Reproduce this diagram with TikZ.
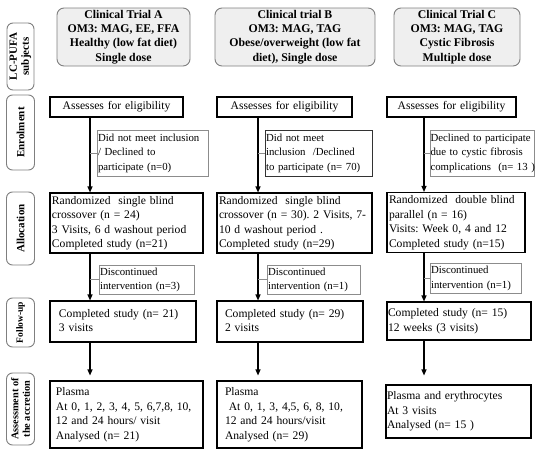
\documentclass[tikz,border=0pt]{standalone}
\usepackage{fontspec}
\setmainfont{Liberation Serif}
\usetikzlibrary{arrows.meta}
\definecolor{hdrfill}{HTML}{EFEFEF}
\definecolor{hdrline}{HTML}{7F7F7F}
\definecolor{sideline}{HTML}{8C8C8C}
\newcommand\rowsx[1]{\begin{tabular}{@{}l@{}}#1\end{tabular}}
\frenchspacing
\begin{document}
\begin{tikzpicture}[x=1pt,y=-1pt,
  hdr/.style={draw=hdrline, fill=hdrfill, rounded corners=7pt, line width=0.9pt, align=center, font=\bfseries\fontsize{11.8}{14.2}\selectfont, inner sep=0pt},
  lbl/.style={draw=hdrline, rounded corners=6pt, line width=0.9pt, rotate=90, align=center, font=\bfseries\fontsize{11}{12}\selectfont, inner sep=0pt},
  mbox/.style={draw, line width=1.1pt, inner xsep=2pt, inner ysep=0pt, align=left, font=\fontsize{11.6}{14.5}\selectfont},
  sbox/.style={draw=sideline, line width=0.9pt, inner xsep=1pt, inner ysep=0pt, align=left, font=\fontsize{10.8}{14.3}\selectfont},
  arr/.style={-{Triangle[length=6pt,width=5pt]}, line width=1.1pt},
  lnk/.style={draw=sideline, line width=0.8pt}]
\useasboundingbox (0,0) rectangle (550,455);

% headers
\node[hdr, minimum width=133pt, minimum height=58pt] (hA) at (123.5,37) {Clinical Trial A\\OM3: MAG, EE, FFA\\Healthy (low fat diet)\\Single dose};
\node[hdr, minimum width=160pt, minimum height=58pt] (hB) at (295,37) {Clinical trial B\\OM3: MAG, TAG\\Obese/overweight (low fat\\diet), Single dose};
\node[hdr, minimum width=126pt, minimum height=58pt] (hC) at (457,37) {Clinical Trial C\\OM3: MAG, TAG\\Cystic Fibrosis\\Multiple dose};

% left labels
\node[lbl, minimum width=67pt, minimum height=27pt] (lL) at (20.5,56.5) {LC-PUFA\\subjects};
\node[lbl, minimum width=75pt, minimum height=28pt] (lE) at (20.5,132.5) {Enrolment};
\node[lbl, minimum width=73pt, minimum height=28pt] (lA) at (20.5,228.5) {Allocation};
\node[lbl, minimum width=49pt, minimum height=28pt, font=\bfseries\fontsize{9.5}{11}\selectfont] (lF) at (20.5,322.5) {Follow-up};
\node[lbl, minimum width=72pt, minimum height=28pt, font=\bfseries\fontsize{10.3}{11.5}\selectfont] (lS) at (20.5,409) {Assessment of\\the accretion};

% enrolment
\node[mbox, align=center, text width=129pt, minimum height=20pt] (eA) at (116.5,107) {Assesses for eligibility};
\node[mbox, align=center, text width=131pt, minimum height=20pt] (eB) at (284.5,107) {Assesses for eligibility};
\node[mbox, align=center, text width=125pt, minimum height=20pt] (eC) at (451.5,107) {Assesses for eligibility};

% exclusion boxes
\node[sbox, text width=109pt, minimum height=46pt] (sA) at (152.5,153) {\rowsx{Did not meet inclusion\\/ Declined to\\participate (n=0)}};
\node[sbox, draw=black!80, text width=105pt, minimum height=46pt] (sB) at (318.5,153) {\rowsx{Did not meet\\inclusion\ \ /Declined\\to participate (n= 70)}};
\node[sbox, inner xsep=0.5pt, text width=103pt, minimum height=46pt] (sC) at (482,153) {\rowsx{Declined to participate\\due to cystic fibrosis\\complications\ \ (n= 13 )}};

% allocation
\node[mbox, text width=149pt, minimum height=60pt] (aA) at (126.5,223) {\rowsx{Randomized\ \ single blind\\crossover (n = 24)\\3 Visits, 6 d washout period\\Completed study (n=21)}};
\node[mbox, text width=151pt, minimum height=60pt] (aB) at (294.5,223) {\rowsx{Randomized\ \ single blind\\crossover (n = 30). 2 Visits, 7-\\10 d washout period .\\Completed study (n=29)}};
\node[mbox, text width=134pt, minimum height=60pt] (aC) at (456,222.5) {\rowsx{Randomized\ \ double blind\\parallel (n = 16)\\Visits: Week 0, 4 and 12\\Completed study (n=15)}};

% discontinued
\node[sbox, text width=93pt, minimum height=29pt] (dA) at (146.5,279.5) {\rowsx{Discontinued\\intervention (n=3)}};
\node[sbox, text width=91pt, minimum height=29pt] (dB) at (313.5,279.5) {\rowsx{Discontinued\\intervention (n=1)}};
\node[sbox, text width=89pt, minimum height=30pt] (dC) at (475.5,278) {\rowsx{Discontinued\\intervention (n=1)}};

% follow-up
\node[mbox, inner xsep=9pt, text width=128pt, minimum height=41pt] (fA) at (123,321.5) {\rowsx{Completed study (n= 21)\\3 visits}};
\node[mbox, inner xsep=8pt, text width=130pt, minimum height=41pt] (fB) at (290,321.5) {\rowsx{Completed study (n= 29)\\2 visits}};
\node[mbox, inner xsep=1pt, text width=142pt, minimum height=38pt] (fC) at (459,321) {\rowsx{Completed study (n= 15)\\12 weeks (3 visits)}};

% assessment
\node[mbox, inner xsep=6pt, text width=141pt, minimum height=67pt] (pA) at (126.5,414.5) {\rowsx{Plasma\\At 0, 1, 2, 3, 4, 5, 6,7,8, 10,\\12 and 24 hours/ visit\\Analysed (n= 21)}};
\node[mbox, inner xsep=8pt, text width=129pt, minimum height=67pt] (pB) at (289.5,414.5) {\rowsx{Plasma\\\ At 0, 1, 3, 4,5, 6, 8, 10,\\12 and 24 hours/visit\\Analysed (n= 29)}};
\node[mbox, inner xsep=1pt, text width=143pt, minimum height=53pt] (pC) at (458.5,411.5) {\rowsx{Plasma and erythrocytes\\At 3 visits\\Analysed (n= 15 )}};

% arrow columns
\coordinate (xA) at (90,0);
\coordinate (xB) at (258,0);
\coordinate (xC) at (424,0);

\draw[arr] (eA.south -| xA) -- (aA.north -| xA);
\draw[lnk] (sA.west -| xA) -- (sA.west);
\draw[arr] (aA.south -| xA) -- (fA.north -| xA);
\draw[lnk] (dA.west -| xA) -- (dA.west);
\draw[arr, shorten >=5pt] (fA.south -| xA) -- (pA.north -| xA);

\draw[arr] (eB.south -| xB) -- (aB.north -| xB);
\draw[lnk] (sB.west -| xB) -- (sB.west);
\draw[arr] (aB.south -| xB) -- (fB.north -| xB);
\draw[lnk] (dB.west -| xB) -- (dB.west);
\draw[arr, shorten >=5pt] (fB.south -| xB) -- (pB.north -| xB);

\draw[arr] (eC.south -| xC) -- (aC.north -| xC);
\draw[lnk] (sC.west -| xC) -- (sC.west);
\draw[arr] (aC.south -| xC) -- (fC.north -| xC);
\draw[lnk] (dC.west -| xC) -- (dC.west);
\draw[arr, shorten >=9pt] (fC.south -| xC) -- (pC.north -| xC);
\end{tikzpicture}
\end{document}
